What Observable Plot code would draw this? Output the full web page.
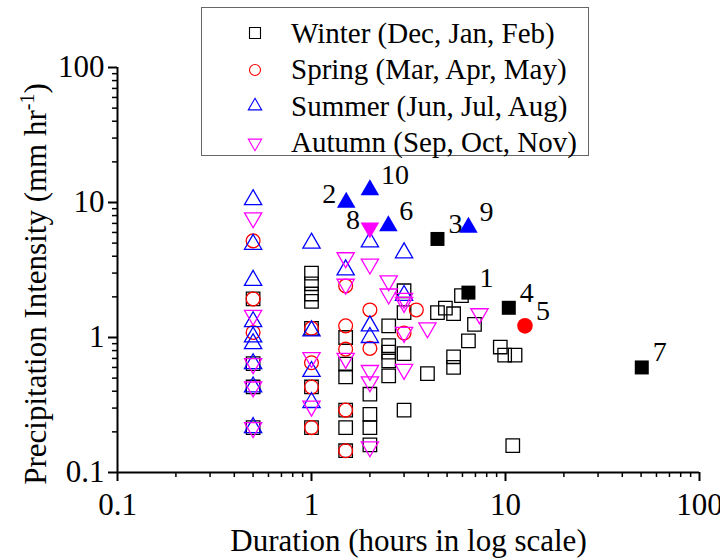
<!DOCTYPE html>
<html>
<head>
<meta charset="utf-8">
<script src="https://cdn.jsdelivr.net/npm/d3@7"></script>
<script src="https://cdn.jsdelivr.net/npm/@observablehq/plot@0.6"></script>
<style>
  body { margin: 0; background: #fff; }
  #wrap { position: relative; width: 720px; height: 560px; font-family: "Liberation Serif", "Times New Roman", serif; }
  #legend { position: absolute; left: 201px; top: 7px; width: 388px; height: 149px; border: 1.5px solid #666; box-sizing: border-box; background: #fff; padding-top: 7px; }
  .lrow { display: flex; align-items: center; height: 36.5px; }
  .lrow svg { margin-left: 41px; flex: none; }
  .lrow span { margin-left: 24px; font-size: 29px; line-height: 1; white-space: nowrap; color: #000; }
</style>
</head>
<body>
<div id="wrap"></div>
<script>
// ---------- data (duration in hours, intensity in mm/hr) ----------
const seasonNames = ["Winter", "Spring", "Summer", "Autumn"];
const legendLabels = ["Winter (Dec, Jan, Feb)", "Spring (Mar, Apr, May)", "Summer (Jun, Jul, Aug)", "Autumn (Sep, Oct, Nov)"];

const winterDur = [0.5,0.5,0.5,0.5, 1,1,1,1,1,1,1, 1.5,1.5,1.5,1.5,1.5,1.5, 2,2,2,2, 2.5,2.5,2.5,2.5,2.5, 3,3,3,3, 3.96,4.46,4.9,5.4,5.4,5.4,5.93,6.44,6.92,9.4,9.9,11.2,10.9];
const winterInt = [1.93,0.64,0.43,0.215, 3.0,2.5,2.1,1.85,1.17,0.43,0.215, 1.0,0.635,0.51,0.29,0.215,0.145, 0.38,0.27,0.215,0.16, 1.22,0.87,0.78,0.67,0.52, 2.22,1.53,0.76,0.29, 0.54,1.53,1.65,1.5,0.72,0.6,2.04,0.945,1.25,0.85,0.74,0.74,0.158];

const springDur = [0.5,0.5,0.5, 1,1,1,1, 1.5,1.5,1.5,1.5,1.5, 2,2, 3, 3.47];
const springInt = [5.2,1.93,1.09, 1.17,0.65,0.43,0.215, 2.41,1.22,0.82,0.29,0.145, 1.6,0.83, 1.08, 1.6];

const summerDur = [0.5,0.5,0.5,0.5,0.5,0.5,0.5,0.5,0.5, 1,1,1,1, 1.5, 2,2,2, 3,3];
const summerInt = [10.5,4.9,2.65,1.31,1.01,0.9,0.64,0.43,0.215, 5.0,1.12,0.56,0.33, 3.17, 5.1,1.22,1.0, 4.24,2.05];

const autumnDur = [0.5,0.5,0.5,0.5,0.5, 1,1, 1.5,1.5,1.5, 2,2,2,2, 2.5,2.5, 3,3,3,3, 3.96, 7.34];
const autumnInt = [7.7,1.46,0.64,0.43,0.215, 0.71,0.31, 3.9,2.48,0.70, 3.5,0.57,0.47,0.155, 2.63,2.1, 1.95,1.82,1.09,0.58, 1.18,1.5];

// highlighted (numbered) events
const eventId     = [1, 2, 3, 4, 5, 6, 7, 8, 9, 10];
const eventSeason = ["Winter","Summer","Winter","Winter","Spring","Summer","Winter","Autumn","Summer","Summer"];
const eventDur    = [6.44, 1.51, 4.46, 10.4, 12.6, 2.49, 50.4, 2.0, 6.44, 2.0];
const eventInt    = [2.15, 10.0, 5.37, 1.66, 1.22, 6.7, 0.6, 6.5, 6.53, 12.4];
const leftLabelled = [2, 8];

// axes
const majorTicks = [0.1, 1, 10, 100];
const tickLabels = ["0.1", "1", "10", "100"];
const minorTicks = [0.2,0.3,0.4,0.5,0.6,0.7,0.8,0.9, 2,3,4,5,6,7,8,9, 20,30,40,50,60,70,80,90];
const xTitle = "Duration (hours in log scale)";
const yTitleParts = ["Precipitation Intensity (mm hr", "-1", ")"];

// ---------- build ----------
const FONT = '"Liberation Serif", "Times New Roman", serif';
const colors = {Winter: "#000000", Spring: "#ff0000", Summer: "#0000ff", Autumn: "#ff00ff"};

const triDown = {
  draw(ctx, size) {
    const y = -Math.sqrt(size / (Math.sqrt(3) * 3));
    ctx.moveTo(0, -y * 2);
    ctx.lineTo(Math.sqrt(3) * y, y);
    ctx.lineTo(-Math.sqrt(3) * y, y);
    ctx.closePath();
  }
};
const symbols = {Winter: "square", Spring: "circle", Summer: "triangle", Autumn: triDown};
const openR = {Winter: 7.6, Spring: 6.9, Summer: 6.4, Autumn: 6.4};
const fillR = {Winter: 7.9, Spring: 7.8, Summer: 6.9, Autumn: 6.9};

const toRows = (xs, ys) => xs.map((x, i) => ({x, y: ys[i]}));
const seasonRows = {
  Winter: toRows(winterDur, winterInt),
  Spring: toRows(springDur, springInt),
  Summer: toRows(summerDur, summerInt),
  Autumn: toRows(autumnDur, autumnInt)
};
const events = eventId.map((id, i) => ({id, season: eventSeason[i], x: eventDur[i], y: eventInt[i]}));
const labelMap = new Map(majorTicks.map((t, i) => [t, tickLabels[i]]));
const yTitle = yTitleParts.join("");

const openMarks = seasonNames.map(s => Plot.dot(seasonRows[s], {
  x: "x", y: "y", symbol: symbols[s], r: openR[s],
  stroke: colors[s], strokeWidth: 1.3, fill: "none"
}));
const filledMarks = seasonNames.map(s => Plot.dot(events.filter(e => e.season === s), {
  x: "x", y: "y", symbol: symbols[s], r: fillR[s],
  fill: colors[s], stroke: "none"
}));

const chart = Plot.plot({
  width: 720,
  height: 560,
  marginLeft: 117,
  marginRight: 21,
  marginTop: 67,
  marginBottom: 88,
  x: {type: "log", domain: [0.1, 100]},
  y: {type: "log", domain: [0.1, 100]},
  marks: [
    Plot.axisX(minorTicks, {tickSize: 5, strokeWidth: 1.5, stroke: "#000", fill: "none", label: null}),
    Plot.axisY(minorTicks, {tickSize: 5, strokeWidth: 1.5, stroke: "#000", fill: "none", label: null}),
    Plot.axisX(majorTicks, {tickSize: 9, tickPadding: 11, strokeWidth: 2, stroke: "#000", fill: "#000", fontSize: 31, fontFamily: FONT, tickFormat: d => labelMap.get(d), label: null}),
    Plot.axisY(majorTicks, {tickSize: 9, tickPadding: 4, strokeWidth: 2, stroke: "#000", fill: "#000", fontSize: 31, fontFamily: FONT, tickFormat: d => labelMap.get(d), label: null}),
    Plot.ruleX([0.1], {strokeWidth: 2, stroke: "#000"}),
    Plot.ruleY([0.1], {strokeWidth: 2, stroke: "#000"}),
    ...openMarks,
    ...filledMarks,
    Plot.text(events.filter(e => !leftLabelled.includes(e.id)), {
      x: "x", y: "y", text: d => String(d.id), textAnchor: "start", dx: 11, dy: -15, fontSize: 28, fontFamily: FONT, fill: "#000"
    }),
    Plot.text(events.filter(e => leftLabelled.includes(e.id)), {
      x: "x", y: "y", text: d => String(d.id), textAnchor: "end", dx: -10, dy: -8, fontSize: 28, fontFamily: FONT, fill: "#000"
    }),
    Plot.text([xTitle], {frameAnchor: "bottom", textAnchor: "middle", lineAnchor: "middle", dy: 69, fontSize: 31, fontFamily: FONT, fill: "#000"}),
    Plot.text([yTitle], {frameAnchor: "left", textAnchor: "middle", lineAnchor: "middle", rotate: -90, dx: -81, dy: 14, fontSize: 31, fontFamily: FONT, fill: "#000"})
  ]
});

// superscript in y title
Array.from(chart.querySelectorAll("text")).filter(t => t.textContent === yTitle).forEach(node => {
  const t = d3.select(node);
  t.text(null);
  t.append("tspan").text(yTitleParts[0]);
  t.append("tspan").attr("dy", -12).attr("font-size", 20).text(yTitleParts[1]);
  t.append("tspan").attr("dy", 12).text(yTitleParts[2]);
});

const wrap = document.getElementById("wrap");
wrap.appendChild(chart);

// legend (overlay)
const legendSymbolPath = {
  Winter: d3.symbol(d3.symbolSquare, 121)(),
  Spring: d3.symbol(d3.symbolCircle, 95)(),
  Summer: d3.symbol(d3.symbolTriangle, 78)(),
  Autumn: d3.symbol(triDown, 78)()
};
const legend = d3.select(wrap).append("div").attr("id", "legend");
seasonNames.forEach((s, i) => {
  const row = legend.append("div").attr("class", "lrow");
  const sv = row.append("svg").attr("width", 24).attr("height", 24).attr("viewBox", "-12 -12 24 24");
  sv.append("path").attr("d", legendSymbolPath[s]).attr("fill", "none").attr("stroke", colors[s]).attr("stroke-width", 1.1);
  row.append("span").text(legendLabels[i]);
});
</script>
</body>
</html>
